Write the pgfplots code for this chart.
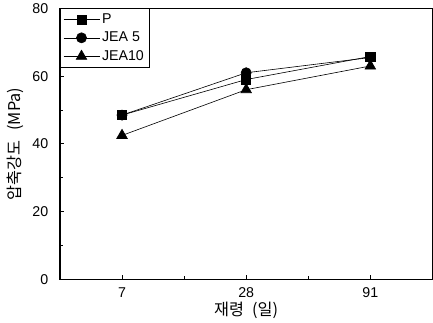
\documentclass[border=0pt]{standalone}
\usepackage{pgfplots}
\pgfplotsset{compat=1.18}
\usepackage{fontspec}
\setmainfont{Liberation Sans}
\newfontfamily\kr{Noto Sans CJK KR}
\begin{document}
\begin{tikzpicture}
\begin{axis}[
  scale only axis,
  width=367pt, height=267pt,
  xmin=-0.5, xmax=2.5, ymin=0, ymax=80,
  xtick={0,1,2}, xticklabels={7,28,91},
  minor xtick={0.5,1.5},
  ytick={0,20,40,60,80},
  minor ytick={10,30,50,70},
  xtick pos=bottom, ytick pos=left,
  tick align=inside,
  major tick length=4pt, minor tick length=3pt,
  axis line style={line width=1.2pt},
  tick style={line width=0.8pt, black},
  /pgf/number format/assume math mode=true,
  ticklabel style={font=\fontsize{14}{16}\selectfont},
  xticklabel style={yshift=-5pt},
  yticklabel style={xshift=-8pt},
  xlabel={\kr 재령\hspace{0.5em}(일)},
  ylabel={\kr 압축강도\hspace{0.6em}(MPa)},
  label style={font=\fontsize{16}{18}\selectfont},
  xlabel style={yshift=3pt},
  ylabel style={inner sep=7pt, yshift=-2pt},
  legend style={at={(0,1)}, anchor=north west, font=\fontsize{14}{15}\selectfont, draw=black, line width=0.6pt, row sep=3pt, inner sep=3pt},
  legend cell align=left,
  legend image code/.code={\draw[#1, mark=none] (0cm,0cm) -- (1.25cm,0cm); \draw[#1, only marks] plot coordinates {(0.62cm,0cm)};},
  every axis plot/.append style={black, line width=0.6pt},
]
\addplot[mark=square*, mark size=4.5pt] coordinates {(0,48.5) (1,59) (2,65.8)};
\addlegendentry{P}
\addplot[mark=*, mark size=5pt] coordinates {(0,48.5) (1,61) (2,65.5)};
\addlegendentry{JEA 5}
\addplot[mark=triangle*, mark size=6pt] coordinates {(0,42.5) (1,56) (2,63)};
\addlegendentry{JEA10}
\end{axis}
\end{tikzpicture}
\end{document}
